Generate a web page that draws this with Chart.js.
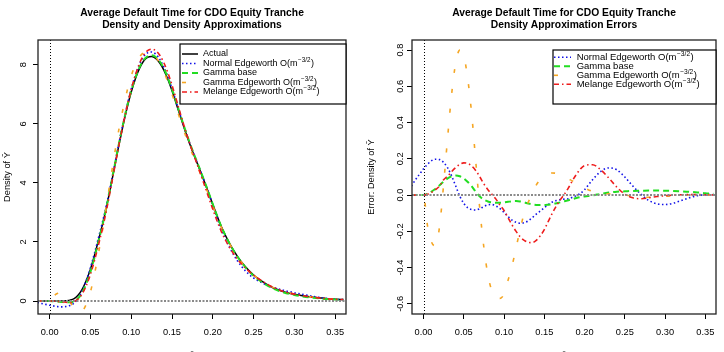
<!DOCTYPE html>
<html><head><meta charset="utf-8">
<script src="https://cdn.jsdelivr.net/npm/chart.js@4"></script>
<style>
html,body{margin:0;padding:0;background:#fff;}
#wrap{display:flex;width:724px;height:352px;}
.cell{position:relative;width:362px;height:352px;}
canvas{display:block;}
</style></head><body>
<div id="wrap"><div class="cell"><canvas id="c1" width="362" height="352"></canvas></div><div class="cell"><canvas id="c2" width="362" height="352"></canvas></div></div>
<script>
// ---- data ----
const tGrid = [-0.015,-0.01,-0.005,0,0.005,0.01,0.015,0.02,0.025,0.03,0.035,0.04,0.045,0.05,0.055,0.06,0.065,0.07,0.075,0.08,0.085,0.09,0.095,0.1,0.105,0.11,0.115,0.12,0.125,0.13,0.135,0.14,0.145,0.15,0.155,0.16,0.165,0.17,0.175,0.18,0.185,0.19,0.195,0.2,0.21,0.22,0.23,0.24,0.25,0.26,0.27,0.28,0.29,0.3,0.31,0.32,0.33,0.34,0.35,0.36];

const densActual = [0,0,0,0,0,0,0,0.01,0.03,0.08,0.2,0.4,0.7,1.08,1.55,2.08,2.62,3.22,3.9,4.6,5.3,5.95,6.55,7.08,7.52,7.87,8.12,8.25,8.28,8.22,8.06,7.82,7.5,7.12,6.7,6.27,5.85,5.45,5.08,4.73,4.38,4.02,3.65,3.27,2.55,1.98,1.52,1.16,0.88,0.67,0.5,0.38,0.29,0.23,0.18,0.14,0.11,0.08,0.06,0.05];
const densNormalEdge = [-0.05,-0.085,-0.115,-0.145,-0.17,-0.19,-0.198,-0.186,-0.15,-0.07,0.095,0.35,0.705,1.125,1.62,2.16,2.70,3.295,3.963,4.653,5.352,6.01,6.625,7.175,7.638,8.008,8.27,8.405,8.432,8.362,8.185,7.925,7.588,7.19,6.752,6.308,5.88,5.475,5.102,4.75,4.392,4.023,3.64,3.24,2.465,1.85,1.37,1.02,0.78,0.62,0.495,0.41,0.338,0.282,0.225,0.17,0.125,0.083,0.058,0.047];
const densGammaBase = [0,0,0,0,-0.008,-0.02,-0.035,-0.045,-0.045,-0.012,0.096,0.292,0.596,0.988,1.478,2.032,2.602,3.228,3.925,4.635,5.34,5.992,6.592,7.12,7.557,7.904,8.153,8.285,8.32,8.266,8.111,7.874,7.555,7.175,6.753,6.32,5.895,5.49,5.114,4.758,4.402,4.036,3.661,3.277,2.552,1.973,1.506,1.141,0.859,0.647,0.476,0.355,0.265,0.206,0.157,0.119,0.092,0.065,0.05,0.043];
const densGammaEdge = [0,0,0,0,0.17,0.26,0.28,0.18,-0.03,-0.24,-0.36,-0.33,-0.1,0.31,0.91,1.64,2.44,3.3,4.19,5.04,5.83,6.515,7.12,7.625,7.99,8.26,8.41,8.44,8.38,8.26,8.055,7.765,7.415,7.015,6.582,6.148,5.73,5.337,4.977,4.64,4.302,3.955,3.598,3.23,2.53,1.97,1.513,1.156,0.88,0.675,0.51,0.392,0.3,0.236,0.183,0.14,0.108,0.078,0.058,0.049];
const densMelange = [0,0,0,0,-0.005,-0.015,-0.03,-0.04,-0.055,-0.025,0.07,0.248,0.53,0.902,1.375,1.92,2.485,3.12,3.838,4.57,5.295,5.972,6.605,7.165,7.645,8.035,8.32,8.48,8.53,8.48,8.322,8.07,7.725,7.31,6.845,6.37,5.91,5.475,5.075,4.69,4.3,3.905,3.505,3.107,2.382,1.84,1.425,1.115,0.875,0.685,0.52,0.395,0.298,0.233,0.18,0.138,0.107,0.077,0.058,0.049];

const errNormalEdge = [0.05,0.085,0.115,0.145,0.17,0.19,0.198,0.196,0.18,0.15,0.105,0.05,-0.005,-0.045,-0.07,-0.08,-0.082,-0.075,-0.063,-0.053,-0.052,-0.06,-0.075,-0.095,-0.118,-0.138,-0.15,-0.155,-0.152,-0.142,-0.125,-0.105,-0.088,-0.07,-0.052,-0.038,-0.03,-0.025,-0.022,-0.02,-0.012,-0.003,0.01,0.03,0.085,0.13,0.15,0.14,0.1,0.05,0.005,-0.03,-0.048,-0.052,-0.045,-0.03,-0.015,-0.003,0.002,0.003];
const errGammaBase = [0,0,0,0,0.008,0.02,0.035,0.055,0.075,0.092,0.104,0.108,0.104,0.092,0.072,0.048,0.018,-0.008,-0.025,-0.035,-0.04,-0.042,-0.042,-0.04,-0.037,-0.034,-0.033,-0.035,-0.04,-0.046,-0.051,-0.054,-0.055,-0.055,-0.053,-0.05,-0.045,-0.04,-0.034,-0.028,-0.022,-0.016,-0.011,-0.007,-0.002,0.007,0.014,0.019,0.021,0.023,0.024,0.025,0.025,0.024,0.023,0.021,0.018,0.015,0.01,0.007];
const errGammaEdge = [0,0,0,0,-0.17,-0.26,-0.28,-0.17,0.06,0.32,0.56,0.73,0.8,0.77,0.64,0.44,0.18,-0.08,-0.29,-0.44,-0.53,-0.565,-0.57,-0.545,-0.47,-0.39,-0.29,-0.19,-0.1,-0.04,0.005,0.055,0.085,0.105,0.118,0.122,0.12,0.113,0.103,0.09,0.078,0.065,0.052,0.04,0.02,0.01,0.007,0.004,0,-0.005,-0.01,-0.012,-0.01,-0.006,-0.003,0,0.002,0.002,0.002,0.001];
const errMelange = [0,0,0,0,0.005,0.015,0.03,0.05,0.085,0.105,0.13,0.152,0.17,0.178,0.175,0.16,0.135,0.1,0.062,0.03,0.005,-0.022,-0.055,-0.085,-0.125,-0.165,-0.2,-0.23,-0.25,-0.26,-0.262,-0.25,-0.225,-0.19,-0.145,-0.1,-0.06,-0.025,0.005,0.04,0.08,0.115,0.145,0.163,0.168,0.14,0.095,0.045,0.005,-0.015,-0.02,-0.015,-0.008,-0.003,0,0.002,0.003,0.003,0.002,0.001];

const xTickValues = [0,0.05,0.1,0.15,0.2,0.25,0.3,0.35];
const leftYTicks = [0,2,4,6,8];
const rightYTicks = [-0.6,-0.4,-0.2,0,0.2,0.4,0.6,0.8];

const seriesLabels = ['Actual','Normal Edgeworth O(m','Gamma base','Gamma Edgeworth O(m','Melange Edgeworth O(m'];
const seriesSups = ['','\u22123/2','','\u22123/2','\u22123/2'];
const leftTitle = ['Average Default Time for CDO Equity Tranche','Density and Density Approximations'];
const rightTitle = ['Average Default Time for CDO Equity Tranche','Density Approximation Errors'];
const leftYLabel = 'Density of \u0232';
const rightYLabel = 'Error: Density of \u0232';
const xLabel = '\u0232';

// ---- styles ----
const FONT = "'Liberation Sans', Arial, Helvetica, sans-serif";
const styles = [
  {color:'#000000', width:1.5, dash:[]},
  {color:'#1010E8', width:1.6, dash:[1.5,2.5]},
  {color:'#22DD22', width:2, dash:[6,4]},
  {color:'#F5A623', width:1.6, dash:[4,16]},
  {color:'#EE1C1C', width:1.6, dash:[5,3,1.5,3]}
];

function pts(ys){ return tGrid.map((x,i)=>({x:x,y:ys[i]})); }
function mkDataset(idx, ys){
  const s = styles[idx];
  return {label: seriesLabels[idx]+seriesSups[idx], data: pts(ys), borderColor:s.color, borderWidth:s.width,
    borderDash:s.dash, pointRadius:0, fill:false, cubicInterpolationMode:'monotone', order: 10-idx};
}

const titlePlugin = {
  id:'rtitle',
  afterDraw(chart){
    const o = chart.options.plugins.rtitle; const ctx = chart.ctx; const ca = chart.chartArea;
    ctx.save(); ctx.fillStyle='#000'; ctx.font='bold 10.3px '+FONT; ctx.textAlign='center'; ctx.textBaseline='middle';
    const cx = (ca.left+ca.right)/2;
    ctx.fillText(o.lines[0], cx, 13.5); ctx.fillText(o.lines[1], cx, 25.5);
    ctx.restore();
  }
};
const boxPlugin = {
  id:'rbox',
  beforeDatasetsDraw(chart){
    const ctx=chart.ctx, ca=chart.chartArea, xs=chart.scales.x, ys=chart.scales.y;
    ctx.save();
    const x0 = Math.round(xs.getPixelForValue(0))+0.5;
    ctx.strokeStyle='#000'; ctx.lineWidth=1; ctx.setLineDash([1,2]);
    ctx.beginPath(); ctx.moveTo(x0, ca.top); ctx.lineTo(x0, ca.bottom); ctx.stroke();
    ctx.restore();
  },
  afterDatasetsDraw(chart){
    const ctx=chart.ctx, ca=chart.chartArea, ys=chart.scales.y;
    ctx.save();
    const y0 = ys.getPixelForValue(0);
    ctx.strokeStyle='#8a8a8a'; ctx.lineWidth=2; ctx.setLineDash([2,1.5]);
    ctx.beginPath(); ctx.moveTo(ca.left, y0); ctx.lineTo(ca.right, y0); ctx.stroke();
    ctx.setLineDash([]); ctx.strokeStyle='#222'; ctx.lineWidth=1.3;
    ctx.strokeRect(ca.left, ca.top, ca.right-ca.left, ca.bottom-ca.top);
    ctx.restore();
  }
};
const legendPlugin = {
  id:'rlegend',
  afterDraw(chart){
    const o = chart.options.plugins.rlegend; const ctx = chart.ctx;
    ctx.save();
    ctx.fillStyle='#fff'; ctx.fillRect(o.box[0],o.box[1],o.box[2]-o.box[0],o.box[3]-o.box[1]);
    ctx.strokeStyle='#000'; ctx.lineWidth=1.2; ctx.setLineDash([]);
    ctx.strokeRect(o.box[0],o.box[1],o.box[2]-o.box[0],o.box[3]-o.box[1]);
    o.items.forEach((idx,i)=>{
      const y=o.rows[i]; const s=styles[idx];
      ctx.strokeStyle=s.color; ctx.lineWidth=s.width; ctx.setLineDash(s.dash);
      ctx.beginPath(); ctx.moveTo(o.x0,y); ctx.lineTo(o.x1,y); ctx.stroke();
      ctx.setLineDash([]);
      ctx.fillStyle='#000'; ctx.textAlign='left'; ctx.textBaseline='middle';
      ctx.font=o.size+'px '+FONT;
      ctx.fillText(seriesLabels[idx], o.tx, y);
      if (seriesSups[idx]) {
        let w = ctx.measureText(seriesLabels[idx]).width;
        ctx.font=(o.size*0.7)+'px '+FONT;
        ctx.fillText(seriesSups[idx], o.tx+w+0.5, y-3.6);
        const w2 = ctx.measureText(seriesSups[idx]).width;
        ctx.font=o.size+'px '+FONT;
        ctx.fillText(')', o.tx+w+w2+1, y);
      }
    });
    ctx.restore();
  }
};

function axisCommon(){
  return {grid:{display:true, drawOnChartArea:false, drawTicks:true, tickLength:5, tickColor:'#000', tickWidth:1},
          border:{display:false}};
}

function makeChart(id, sets, opts){
  const xa = axisCommon(), ya = axisCommon();
  return new Chart(document.getElementById(id), {
    type:'line',
    data:{datasets:sets},
    options:{
      responsive:false, animation:false, devicePixelRatio:1, parsing:false, normalized:true,
      layout:{padding:{top:40,left:0,right:opts.padRight,bottom:0}},
      plugins:{legend:{display:false}, tooltip:{enabled:false}, title:{display:false},
        rtitle:{lines:opts.title}, rlegend:opts.legend},
      scales:{
        x:Object.assign(xa,{type:'linear', position:'bottom', min:-0.0143, max:0.3633, bounds:'data',
          afterBuildTicks:s=>{s.ticks = xTickValues.map(v=>({value:v}));},
          afterFit:s=>{s.height=38;},
          ticks:{autoSkip:false, maxRotation:0, minRotation:0, padding:8, color:'#000',
            font:{family:FONT, size:9.25}, callback:v=>Number(v).toFixed(2)},
          title:{display:true, text:xLabel, color:'#000', font:{family:FONT, size:9.25}, padding:{top:0,bottom:-10.5}}
        }),
        y:Object.assign(ya,{type:'linear', position:'left', min:opts.yMin, max:opts.yMax, bounds:'data',
          afterBuildTicks:s=>{s.ticks = opts.yTicks.map(v=>({value:v}));},
          afterFit:s=>{s.width=opts.yWidth;},
          ticks:{autoSkip:false, minRotation:90, maxRotation:90, crossAlign:'center', padding:opts.yPad, color:'#000',
            font:{family:FONT, size:9.25}, callback:opts.yFmt},
          title:{display:true, text:opts.yLabel, color:'#000', font:{family:FONT, size:9.25}, padding:{top:opts.yTitlePad,bottom:0}}
        })
      }
    },
    plugins:[boxPlugin, titlePlugin, legendPlugin]
  });
}

makeChart('c1', [
  mkDataset(0, densActual), mkDataset(1, densNormalEdge), mkDataset(2, densGammaBase),
  mkDataset(3, densGammaEdge), mkDataset(4, densMelange)
], {padRight:16, yMin:-0.44, yMax:8.84, yTicks:leftYTicks, yWidth:38, yPad:7.1, yTitlePad:2.4,
   yFmt:v=>String(Math.round(v)), yLabel:leftYLabel, title:leftTitle,
   legend:{box:[180,44,346,104], rows:[54,63.5,73,82.5,92], items:[0,1,2,3,4], x0:182, x1:198, tx:203, size:9}});

makeChart('c2', [
  mkDataset(1, errNormalEdge), mkDataset(2, errGammaBase),
  mkDataset(3, errGammaEdge), mkDataset(4, errMelange)
], {padRight:8, yMin:-0.656, yMax:0.856, yTicks:rightYTicks, yWidth:50, yPad:-1, yTitlePad:4.4,
   yFmt:v=>Number(v).toFixed(1), yLabel:rightYLabel, title:rightTitle,
   legend:{box:[191,50,354,104], rows:[57.3,66.3,75.3,84.3], items:[1,2,3,4], x0:192, x1:209, tx:214.7, size:9.5}});
</script>
</body></html>
